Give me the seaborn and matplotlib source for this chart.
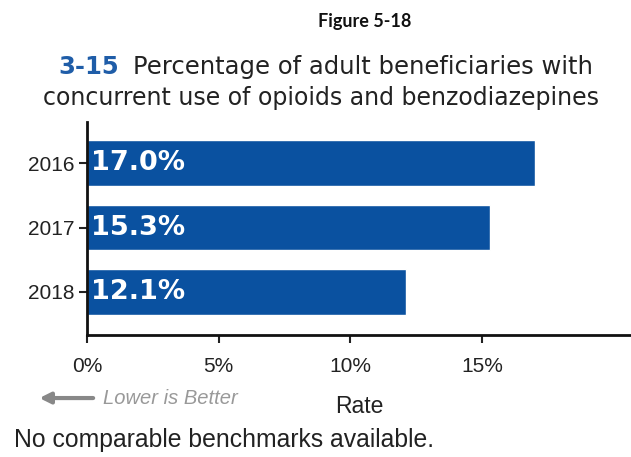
import pandas as pd
import matplotlib.pyplot as plt
import seaborn as sns

anos = ["2016", "2017", "2018"]
taxas = [17.0, 15.3, 12.1]
ticks_x = [0, 5, 10, 15]
rotulos_x = ["0%", "5%", "10%", "15%"]

sns.set_theme(style="white")
plt.rcParams["font.family"] = ["Liberation Sans", "DejaVu Sans"]

df = pd.DataFrame({"Ano": anos, "Taxa": taxas})

fig = plt.figure(figsize=(6.31, 4.57), dpi=100)
ax = fig.add_axes([0.138, 0.267, 0.862, 0.466])

sns.barplot(data=df, x="Taxa", y="Ano", color="#0a51a0", saturation=1,
            width=0.71, ax=ax)

for p, v in zip(ax.patches, taxas):
    ax.text(0.15, p.get_y() + p.get_height() / 2, f"{v:.1f}%",
            color="white", fontsize=19.5, fontweight="bold",
            family="DejaVu Sans", ha="left", va="center")

ax.set_xlim(0, 20.65)
ax.set_ylim(2.67, -0.64)
ax.set_xticks(ticks_x)
ax.set_xticklabels(rotulos_x)
ax.tick_params(axis="both", labelsize=15, colors="#222222", length=6, width=1.5,
               direction="out", bottom=True, left=True)
ax.tick_params(axis="x", pad=10)
ax.tick_params(axis="y", pad=3)
ax.set_xlabel("")
ax.set_ylabel("")
for s in ["top", "right"]:
    ax.spines[s].set_visible(False)
for s in ["left", "bottom"]:
    ax.spines[s].set_color("#111111")
    ax.spines[s].set_linewidth(2)

fig.text(0.578, 0.952, "Figure 5-18", ha="center", va="center",
         fontsize=13, fontweight="bold", family="Lato", color="#111111")
fig.text(0.093, 0.853, "3-15", ha="left", va="center", fontsize=17.5,
         fontweight="bold", family="DejaVu Sans", color="#1f5da8")
fig.text(0.211, 0.853, "Percentage of adult beneficiaries with", ha="left",
         va="center", fontsize=17.5, family="DejaVu Sans", color="#222222")
fig.text(0.508, 0.785, "concurrent use of opioids and benzodiazepines",
         ha="center", va="center", fontsize=17, family="DejaVu Sans",
         color="#222222")

ax.annotate("", xy=(0.058, 0.129), xytext=(0.152, 0.129),
            xycoords="figure fraction", textcoords="figure fraction",
            arrowprops=dict(arrowstyle="-|>", color="#888888", lw=3,
                            mutation_scale=16))
fig.text(0.163, 0.129, "Lower is Better", ha="left", va="center",
         fontsize=14.5, fontstyle="italic", color="#999999")
fig.text(0.569, 0.11, "Rate", ha="center", va="center", fontsize=16.5,
         color="#222222")
fig.text(0.022, 0.037, "No comparable benchmarks available.", ha="left",
         va="center", fontsize=17.8, color="#222222")

fig.savefig("out.png", dpi=100)
